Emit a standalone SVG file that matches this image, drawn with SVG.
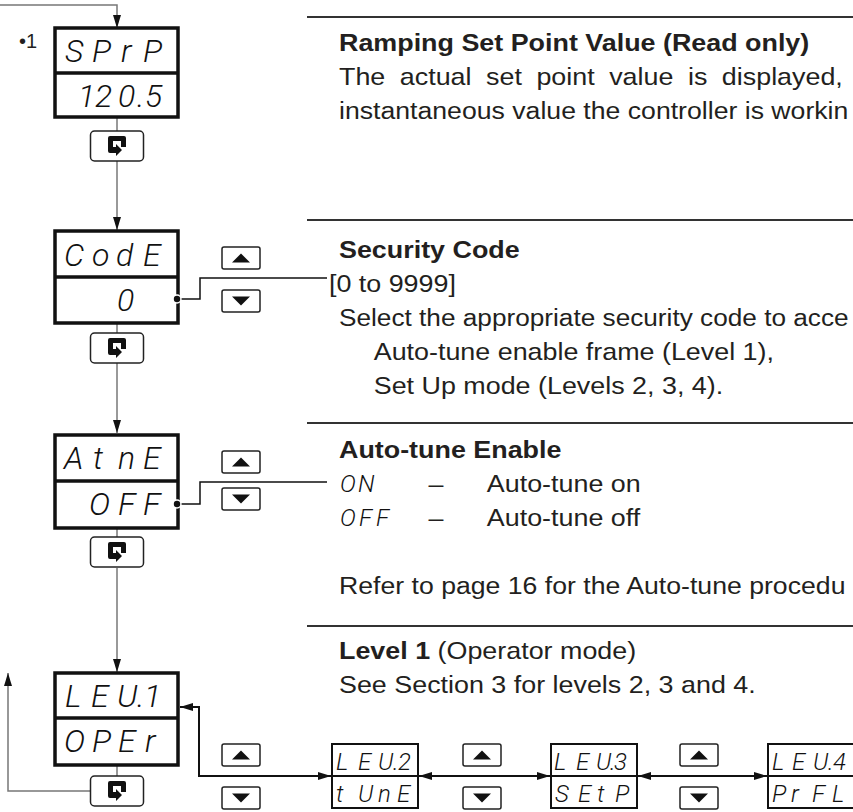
<svg xmlns="http://www.w3.org/2000/svg" xmlns:xlink="http://www.w3.org/1999/xlink" width="853" height="812" viewBox="0 0 853 812">
<style>
.bg{fill:#fff}
.box{fill:#fff;stroke:#111;stroke-width:3.5}
.div{stroke:#111;stroke-width:3.5}
.sbox{fill:#fff;stroke:#111;stroke-width:2}
.sdiv{stroke:#111;stroke-width:2}
.btn{fill:#fff;stroke:#222;stroke-width:1.5}
.tri{fill:#111}
.led{font-family:Roboto,"Liberation Sans",sans-serif;font-style:italic;font-weight:300;fill:#111}
.big{font-size:32px}
.sm{font-size:24px}
.body{font-family:"Liberation Sans",Arial,sans-serif;font-size:24px;fill:#231f20}
.b{font-weight:bold}
.sep{stroke:#333;stroke-width:2}
.gline{fill:none;stroke:#777;stroke-width:1.5}
.kline{fill:none;stroke:#111;stroke-width:2}
.dline{fill:none;stroke:#111;stroke-width:1.5}
</style>
<defs>
<marker id="ah" viewBox="0 0 13 8" refX="13" refY="4" markerWidth="13" markerHeight="8" markerUnits="userSpaceOnUse" orient="auto-start-reverse"><path d="M0,0L13,4L0,8z" fill="#111"/></marker>
<g id="loop"><rect x="-26.5" y="-15" width="53" height="30" rx="4" class="btn"/><path transform="translate(0,-1)" d="M-9,-7Q-9,-9 -7,-9H7Q9,-9 9,-7V2H4V-4H-4V2H-1V-1L5,5L-1,11V8H-7Q-9,8 -9,6Z" fill="#111"/></g>
<g id="up"><rect x="0" y="0" width="38" height="22" rx="2" class="btn"/><path d="M10,15.5H28L19,6.5Z" class="tri"/></g>
<g id="dn"><rect x="0" y="0" width="38" height="22" rx="2" class="btn"/><path d="M10,6.5H28L19,15.5Z" class="tri"/></g>
</defs>
<rect class="bg" x="0" y="0" width="853" height="812"/>

<g id="connectors">
<path class="gline" d="M0,5H117V28" marker-end="url(#ah)"/>
<path class="gline" d="M117,117V131"/>
<path class="gline" d="M117,161V230" marker-end="url(#ah)"/>
<path class="gline" d="M117,323V333"/>
<path class="gline" d="M117,363V433" marker-end="url(#ah)"/>
<path class="gline" d="M117,528V537"/>
<path class="gline" d="M117,568V672" marker-end="url(#ah)"/>
<path class="gline" d="M117,765V776"/>
<path class="gline" d="M90,791H8V673" marker-end="url(#ah)"/>
<path class="dline" d="M177,299H200V278H327"/>
<path class="dline" d="M177,504H200V482H327"/>
<path class="kline" d="M180,707H199V776H331" marker-start="url(#ah)" marker-end="url(#ah)"/>
<path class="kline" d="M419,776H550" marker-start="url(#ah)" marker-end="url(#ah)"/>
<path class="kline" d="M638,776H767" marker-start="url(#ah)" marker-end="url(#ah)"/>
</g>

<text x="19" y="48" style="font-family:'Liberation Sans',Arial,sans-serif;font-size:20px;fill:#231f20">•1</text>

<g id="n-sprp">
<rect class="box" x="55" y="28" width="123" height="89"/>
<line class="div" x1="55" y1="73" x2="178" y2="73"/>
<text class="led big" x="65 92 121 143" y="62">SPrP</text>
<text class="led big" x="78 95 118 137 145" y="107">120.5</text>
</g>
<use id="loop1" xlink:href="#loop" x="117" y="146"/>

<g id="n-code">
<rect class="box" x="55" y="231" width="123" height="92"/>
<line class="div" x1="55" y1="277" x2="178" y2="277"/>
<text class="led big" x="64 92 116 143" y="266">CodE</text>
<text class="led big" x="117" y="311">0</text>
<circle cx="177" cy="299" r="3.2" fill="#111" stroke="#fff" stroke-width="3"/>
<circle cx="177" cy="299" r="3.2" fill="#111"/>
</g>
<use xlink:href="#up" x="222" y="247"/>
<use xlink:href="#dn" x="222" y="290"/>
<use id="loop2" xlink:href="#loop" x="117" y="348"/>

<g id="n-atne">
<rect class="box" x="55" y="435" width="123" height="93"/>
<line class="div" x1="55" y1="481" x2="178" y2="481"/>
<text class="led big" x="64 93 118 143" y="469">AtnE</text>
<text class="led big" x="89 118 143" y="515">OFF</text>
<circle cx="177" cy="504" r="3.2" fill="#111" stroke="#fff" stroke-width="3"/>
<circle cx="177" cy="504" r="3.2" fill="#111"/>
</g>
<use xlink:href="#up" x="222" y="451"/>
<use xlink:href="#dn" x="222" y="488"/>
<use id="loop3" xlink:href="#loop" x="117" y="552"/>

<g id="n-lev1">
<rect class="box" x="55" y="673" width="123" height="92"/>
<line class="div" x1="55" y1="718" x2="178" y2="718"/>
<text class="led big" x="65 91 117 137 144" y="707">LEU.1</text>
<text class="led big" x="64 92 118 145" y="752">OPEr</text>
</g>
<use id="loop4" xlink:href="#loop" x="117" y="791"/>

<use xlink:href="#up" x="222" y="744"/>
<use xlink:href="#dn" x="222" y="787"/>
<use xlink:href="#up" x="463" y="744"/>
<use xlink:href="#dn" x="463" y="787"/>
<use xlink:href="#up" x="680" y="744"/>
<use xlink:href="#dn" x="680" y="787"/>

<g id="n-lev2">
<rect class="sbox" x="332" y="744" width="86" height="64"/>
<line class="sdiv" x1="332" y1="776" x2="418" y2="776"/>
<text class="led sm" x="336 358 378 393 398" y="770">LEU.2</text>
<text class="led sm" x="336 358 378 397" y="802">tUnE</text>
</g>
<g id="n-lev3">
<rect class="sbox" x="551" y="744" width="86" height="64"/>
<line class="sdiv" x1="551" y1="776" x2="637" y2="776"/>
<text class="led sm" x="554 576 596 610 614" y="770">LEU.3</text>
<text class="led sm" x="555 578 597 615" y="802">SEtP</text>
</g>
<g id="n-lev4">
<rect class="sbox" x="768" y="744" width="92" height="64"/>
<line class="sdiv" x1="768" y1="776" x2="860" y2="776"/>
<text class="led sm" x="772 792 813 828 833" y="770">LEU.4</text>
<text class="led sm" x="772 791 812 832" y="802">PrFL</text>
</g>

<g id="d-ramp">
<line class="sep" x1="307" y1="17" x2="853" y2="17"/>
<g transform="matrix(1.12 0 0 1 339 0)">
<text class="body b" x="0" y="51">Ramping Set Point Value (Read only)</text>
<text class="body" x="0" y="85" word-spacing="6.3">The actual set point value is displayed,</text>
<text class="body" x="0" y="119" style="font-size:23.8px">instantaneous value the controller is workin</text>
</g>
</g>

<g id="d-code">
<line class="sep" x1="307" y1="220" x2="853" y2="220"/>
<g transform="matrix(1.12 0 0 1 339 0)">
<text class="body b" x="0" y="258">Security Code</text>
<text class="body" x="-9" y="292">[0 to 9999]</text>
<text class="body" x="0" y="326" style="font-size:23.4px">Select the appropriate security code to acce</text>
<text class="body" x="31" y="360">Auto-tune enable frame (Level 1),</text>
<text class="body" x="31" y="394">Set Up mode (Levels 2, 3, 4).</text>
</g>
</g>

<g id="d-atne">
<line class="sep" x1="307" y1="423" x2="853" y2="423"/>
<text class="led sm" x="340 358" y="492">ON</text>
<text class="led sm" x="340 359 376" y="526">OFF</text>
<g transform="matrix(1.12 0 0 1 339 0)">
<text class="body b" x="0" y="458">Auto-tune Enable</text>
<text class="body" x="80" y="492">–</text>
<text class="body" x="132" y="492">Auto-tune on</text>
<text class="body" x="80" y="526">–</text>
<text class="body" x="132" y="526">Auto-tune off</text>
<text class="body" x="0" y="594" style="font-size:23.8px">Refer to page 16 for the Auto-tune procedu</text>
</g>
</g>

<g id="d-level">
<line class="sep" x1="307" y1="626" x2="853" y2="626"/>
<g transform="matrix(1.12 0 0 1 339 0)">
<text class="body" x="0" y="659"><tspan class="b">Level 1</tspan> (Operator mode)</text>
<text class="body" x="0" y="693">See Section 3 for levels 2, 3 and 4.</text>
</g>
</g>
</svg>
